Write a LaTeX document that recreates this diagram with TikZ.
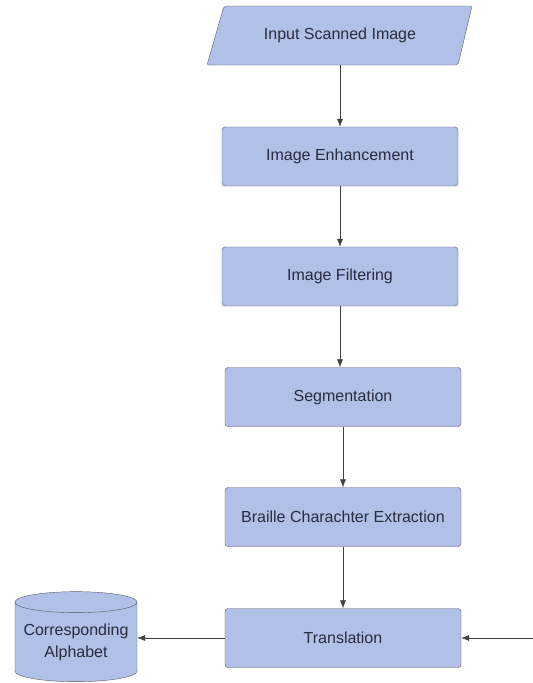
\documentclass[tikz,border=0pt]{standalone}
\usepackage{fontspec}
\setmainfont{Liberation Sans}
\usetikzlibrary{arrows.meta,shapes.geometric,calc}
\definecolor{boxfill}{RGB}{176,192,230}
\definecolor{boxline}{RGB}{90,90,100}
\definecolor{boxtext}{RGB}{40,44,64}

\begin{document}
\begin{tikzpicture}
      [x = 1pt, y = -1pt,
      flow/.style={-{Latex[length=8pt,width=6pt]}, draw = black!75, line width = 0.5pt},
      stepbox/.style= {
         draw = boxline,
         fill = boxfill,
         rounded corners = 3pt,
         minimum width = 236pt,
         minimum height = 59pt,
         text = boxtext,
         font = \fontsize{16}{18}\selectfont
      },
      intext/.style= {
         minimum width = 236pt,
         minimum height = 59pt,
         text = boxtext,
         font = \fontsize{16}{18}\selectfont
      },
      store/.style= {
         draw = boxline,
         fill = boxfill,
         cylinder,
         shape border rotate = 90,
         aspect = 0.2,
         minimum width = 122pt,
         minimum height = 90pt,
         inner sep = 0pt,
         text = boxtext,
         align = center,
         font = \fontsize{16}{22}\selectfont
      }]

      \useasboundingbox (0, 0) rectangle (533, 683);

      % input parallelogram
      \draw[draw = boxline, fill = boxfill, rounded corners = 2pt]
         (207, 65) -- (224, 6) -- (472, 6) -- (458, 65) -- cycle;
      \node[intext] (input) at (340, 35.5) {Input Scanned Image};

      \node[stepbox] (enhance) at (340, 156.5) {Image Enhancement};
      \node[stepbox] (filter) at (340, 276.5) {Image Filtering};
      \node[stepbox] (segment) at (343, 397) {Segmentation};
      \node[stepbox] (extract) at (343, 517) {Braille Charachter Extraction};
      \node[stepbox] (translate) at (343, 638) {Translation};
      \node[store] (alphabet) at (76, 642) {Corresponding\\Alphabet};
      \coordinate (feed) at (533, 638);

      \draw[flow] (input.south) -- (enhance.north);
      \draw[flow] (enhance) -- (filter);
      \draw[flow] (filter.south) -- (filter.south |- segment.north);
      \draw[flow] (segment) -- (extract);
      \draw[flow] (extract) -- (translate);
      \draw[flow] (translate) -- (translate -| alphabet.east);
      \draw[flow] (feed) -- (translate);

   \end{tikzpicture}
\end{document}
